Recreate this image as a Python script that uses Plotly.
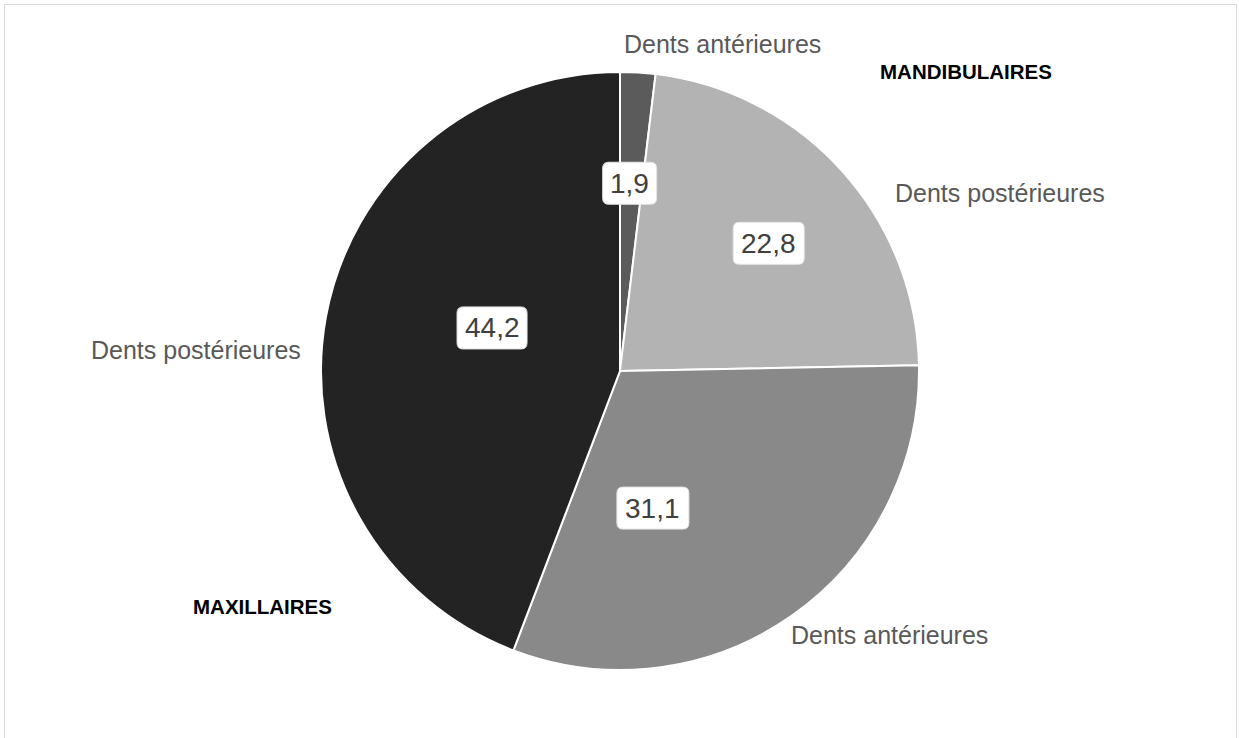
import math
import plotly.graph_objects as go

# Share of cases by tooth group (%), clockwise from 12 o'clock
categories = ["Dents antérieures (mand.)", "Dents postérieures (mand.)",
              "Dents antérieures (max.)", "Dents postérieures (max.)"]
category_labels = ["Dents antérieures", "Dents postérieures",
                   "Dents antérieures", "Dents postérieures"]
values = [1.9, 22.8, 31.1, 44.2]
slice_colors = ["#5b5b5b", "#b3b3b3", "#898989", "#232323"]
group_titles = ["MANDIBULAIRES", "MAXILLAIRES"]

W, H = 1239, 738
CX, CY, R = 620, 371, 299  # pie centre / radius in pixels

def px_x(x):
    return x / W

def px_y(y):
    return 1 - y / H

fig = go.Figure(go.Pie(
    labels=categories,
    values=values,
    sort=False,
    direction="clockwise",
    rotation=0,
    marker=dict(colors=slice_colors, line=dict(color="white", width=2)),
    textinfo="none",
    hoverinfo="label+value",
    showlegend=False,
    domain=dict(x=[px_x(CX - R), px_x(CX + R)], y=[px_y(CY + R), px_y(CY - R)]),
))

# value boxes: (angle from 12 o'clock clockwise in degrees, distance in pixels)
value_pos = [(2.95, 188), (49.35, 196), (166.5, 141), (288.6, 135)]
box_w = [54, 71, 72, 70]
box_h = 42

def rounded_rect(x0, y0, x1, y1, r):
    def P(x, y):
        return f"{px_x(x):.5f},{px_y(y):.5f}"
    return (f"M {P(x0 + r, y0)} L {P(x1 - r, y0)} Q {P(x1, y0)} {P(x1, y0 + r)} "
            f"L {P(x1, y1 - r)} Q {P(x1, y1)} {P(x1 - r, y1)} "
            f"L {P(x0 + r, y1)} Q {P(x0, y1)} {P(x0, y1 - r)} "
            f"L {P(x0, y0 + r)} Q {P(x0, y0)} {P(x0 + r, y0)} Z")

FONT = "Liberation Sans, Arial"
shapes = []
annotations = []

def label(x, y, text, size, color):
    annotations.append(dict(x=px_x(x), y=px_y(y), xref="paper", yref="paper",
                            xanchor="center", yanchor="middle",
                            text=text, showarrow=False,
                            font=dict(family=FONT, size=size, color=color)))

for v, (ang, dist), bw in zip(values, value_pos, box_w):
    a = math.radians(ang)
    x = CX + dist * math.sin(a)
    y = CY - dist * math.cos(a)
    shapes.append(dict(type="path", xref="paper", yref="paper",
                       path=rounded_rect(x - bw / 2, y - box_h / 2, x + bw / 2, y + box_h / 2, 6),
                       fillcolor="white", line=dict(color="#e4e4e4", width=1)))
    label(x, y, f"{v:.1f}".replace(".", ","), 28, "#404040")

# category labels outside the pie
label_pos = [(722, 44), (1000, 193), (889, 635), (196, 350)]
for txt, (x, y) in zip(category_labels, label_pos):
    label(x, y, txt, 25, "#595959")

# jaw group titles
title_pos = [(966, 71), (262, 606)]
for txt, (x, y) in zip(group_titles, title_pos):
    label(x, y, f"<b>{txt}</b>", 20.5, "#000000")

# chart frame
shapes.insert(0, dict(type="rect", xref="paper", yref="paper",
                      x0=px_x(4.5), x1=px_x(1236.5), y0=px_y(760), y1=px_y(4.5),
                      line=dict(color="#d9d9d9", width=1), fillcolor="rgba(0,0,0,0)",
                      layer="below"))

fig.update_layout(
    width=W, height=H,
    margin=dict(l=0, r=0, t=0, b=0),
    paper_bgcolor="white",
    plot_bgcolor="white",
    shapes=shapes,
    annotations=annotations,
)

fig.write_html("out.html")
